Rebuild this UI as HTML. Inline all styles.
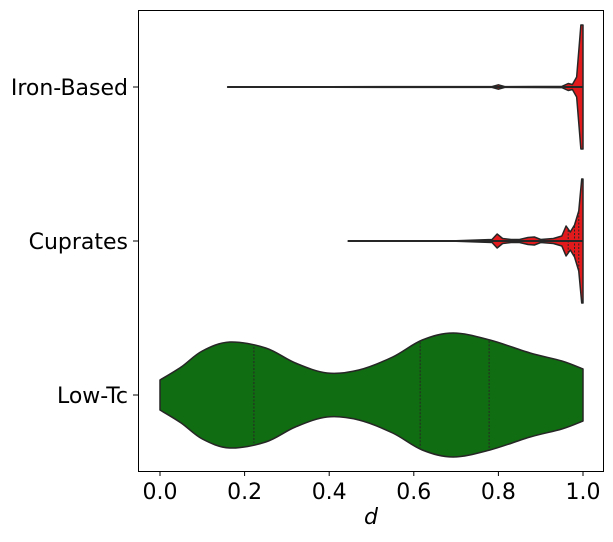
<!DOCTYPE html>
<html><head><meta charset="utf-8"><style>
body{margin:0;background:#fff;}
svg text{font-family:"DejaVu Sans","Liberation Sans",sans-serif;}
</style></head><body>
<svg id="chart" width="613" height="537" xmlns="http://www.w3.org/2000/svg">
<rect x="0" y="0" width="613" height="537" fill="#fff"/>
<g id="plot"></g>
<rect x="138.5" y="10.5" width="465" height="461" fill="none" stroke="#000" stroke-width="1"/>
<g id="axes"></g>
</svg>
<script>
const categories = ["Iron-Based", "Cuprates", "Low-Tc"];
const xTicks = [0, 0.2, 0.4, 0.6, 0.8, 1.0];
const xTickLabels = ["0.0", "0.2", "0.4", "0.6", "0.8", "1.0"];
// density profiles: d values and half-widths (relative, max = 62)
const ironD = [0.16, 0.40, 0.785, 0.80, 0.815, 0.95, 0.965, 0.975, 0.985, 0.995, 1.0];
const ironW = [0.3, 0.3, 0.4, 2.2, 0.4, 0.6, 3.5, 2.5, 10, 62, 62];
const cupD = [0.445, 0.70, 0.785, 0.797, 0.81, 0.83, 0.85, 0.87, 0.885, 0.90, 0.93, 0.95, 0.96, 0.97, 0.98, 0.99, 0.997, 1.0];
const cupW = [0.3, 0.3, 1.5, 7, 2.5, 1.5, 1.5, 3.5, 4, 1.5, 2.5, 5, 15, 9, 16, 30, 62, 62];
const lowD = [0, 0.05, 0.1, 0.165, 0.25, 0.32, 0.395, 0.47, 0.55, 0.62, 0.693, 0.78, 0.875, 0.95, 1.0];
const lowW = [15, 28, 44, 53, 47, 32, 22, 25, 38, 55, 62, 55, 42, 34, 26];
const lowQuartiles = [0.222, 0.615, 0.778];
const cupQuartiles = [0.965, 0.98, 0.99];
const ironRange = [0.16, 1.0];
const cupRange = [0.445, 1.0];

const xScale = d => 160 + d * 423;
const yScale = i => 87 + i * 154;
const NS = "http://www.w3.org/2000/svg";
const plot = document.getElementById('plot');
const axes = document.getElementById('axes');
function mk(tag, attrs, parent){const e=document.createElementNS(NS,tag);for(const k in attrs)e.setAttribute(k,attrs[k]);parent.appendChild(e);return e;}

function smoothPath(pts){
  let s = `M${pts[0][0]},${pts[0][1]}`;
  for(let i=0;i<pts.length-1;i++){
    const p0=pts[Math.max(0,i-1)],p1=pts[i],p2=pts[i+1],p3=pts[Math.min(pts.length-1,i+2)];
    const c1=[p1[0]+(p2[0]-p0[0])/6,p1[1]+(p2[1]-p0[1])/6];
    const c2=[p2[0]-(p3[0]-p1[0])/6,p2[1]-(p3[1]-p1[1])/6];
    s+=` C${c1[0]},${c1[1]} ${c2[0]},${c2[1]} ${p2[0]},${p2[1]}`;
  }
  return s;
}
function violin(ds, ws, idx, fill, name, smooth){
  const cy=yScale(idx);
  const top=ds.map((d,i)=>[xScale(d),cy-ws[i]]);
  const bot=ds.map((d,i)=>[xScale(d),cy+ws[i]]).reverse();
  let p;
  if(smooth){p=smoothPath(top)+' L'+bot[0][0]+','+bot[0][1]+smoothPath(bot).replace(/^M[^C]*/,' ')+' Z';}
  else{p='M'+top.map(q=>q.join(',')).join(' L')+' L'+bot.map(q=>q.join(',')).join(' L')+' Z';}
  const e=mk('path',{d:p,fill:fill,stroke:'#262626','stroke-width':1.5,'stroke-linejoin':'round'},plot);
  
  
}
function whisker(r, idx, name){
  const y=yScale(idx);
  const l=mk('line',{x1:xScale(r[0]),x2:xScale(r[1]),y1:y,y2:y,stroke:'#262626','stroke-width':2},plot);
  
  
}
violin(ironD, ironW, 0, '#e31a1c', 'violin-iron-based', false);
violin(cupD, cupW, 1, '#e31a1c', 'violin-cuprates', false);
whisker(ironRange, 0, 'iron-based-whisker');
whisker(cupRange, 1, 'cuprates-whisker');
violin(lowD, lowW, 2, '#116d11', 'violin-low-tc', true);

function interp(ds, ws, d){for(let i=0;i<ds.length-1;i++){if(d>=ds[i]&&d<=ds[i+1]){const t=(d-ds[i])/(ds[i+1]-ds[i]);return ws[i]+t*(ws[i+1]-ws[i]);}}return 0;}
function quartiles(qs, ds, ws, idx, name){
  qs.forEach(q=>{
    const w=interp(ds,ws,q)-1, cy=yScale(idx), x=xScale(q);
    const l=mk('line',{x1:x,x2:x,y1:cy-w,y2:cy+w,stroke:'#262626','stroke-width':1,'stroke-dasharray':'2,1.5'},plot);
    
    
  });
}
quartiles(lowQuartiles, lowD, lowW, 2, 'low-tc-quartile-line');
quartiles(cupQuartiles, cupD, cupW, 1, 'cuprates-quartile-line');

xTicks.forEach((t,i)=>{
  const x=xScale(t);
  const tk=mk('line',{x1:x,x2:x,y1:471,y2:476,stroke:'#000'},axes);
  
  
  const tx=mk('text',{x:x,y:499,'text-anchor':'middle','font-size':22},axes);
  tx.textContent=xTickLabels[i];
  
  
});
categories.forEach((c,i)=>{
  const y=yScale(i);
  const tk=mk('line',{x1:133,x2:138,y1:y,y2:y,stroke:'#000'},axes);
  
  
  const tx=mk('text',{x:128,y:y+8,'text-anchor':'end','font-size':22},axes);
  tx.textContent=c;
  
  
});
const xl=mk('text',{x:371,y:524,'text-anchor':'middle','font-size':22,'font-style':'italic'},axes);
xl.textContent='d';


</script>
</body></html>
